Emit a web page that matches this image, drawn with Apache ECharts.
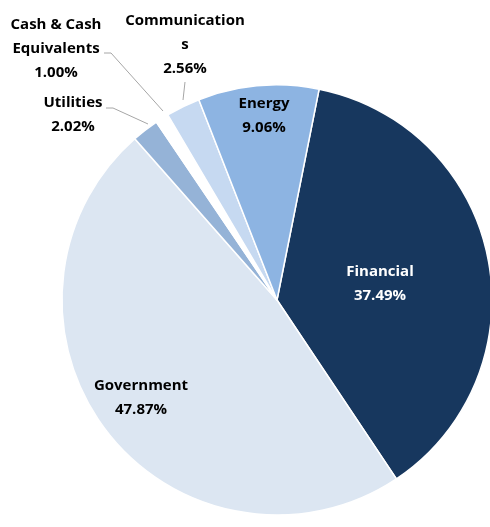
<!DOCTYPE html>
<html>
<head>
<meta charset="utf-8">
<script src="https://cdn.jsdelivr.net/npm/echarts@6/dist/echarts.min.js"></script>
<style>
html,body{margin:0;padding:0;background:#fff;}
#c{width:490px;height:527px;}
</style>
</head>
<body>
<div id="c"></div>
<script>
const categories = ['Financial', 'Government', 'Utilities', 'Cash & Cash\nEquivalents', 'Communication\ns', 'Energy'];
const values = [37.49, 47.87, 2.02, 1.00, 2.56, 9.06];
const colors = ['#17375E', '#DCE6F2', '#95B3D7', '#FFFFFF', '#C6D9F1', '#8DB4E2'];

// label placement (layout only)
const labelPos = [
  {x: 380, y: 284},
  {x: 141, y: 398},
  {x: 73, y: 115, line: [[106, 108], [113, 108], [148, 124]]},
  {x: 56, y: 49, line: [[104, 53], [111, 53], [163, 111]]},
  {x: 185, y: 45, line: [[185, 82], [185, 82], [183, 100]]},
  {x: 264, y: 116}
];

const chart = echarts.init(document.getElementById('c'));
chart.setOption({
  animation: false,
  series: [{
    type: 'pie',
    center: [277, 300],
    radius: 215,
    startAngle: 78.7,
    clockwise: true,
    avoidLabelOverlap: false,
    itemStyle: {borderColor: '#fff', borderWidth: 1.5},
    label: {
      show: true,
      fontFamily: 'Open Sans',
      fontWeight: 'bold',
      fontSize: 15,
      lineHeight: 24,
      color: '#000',
      align: 'center',
      formatter: p => p.name + '\n' + p.value.toFixed(2) + '%'
    },
    labelLine: {show: true, lineStyle: {color: '#A6A6A6', width: 1}},
    labelLayout: function (params) {
      const lp = labelPos[params.dataIndex];
      const r = {x: lp.x, y: lp.y, align: 'center', verticalAlign: 'middle'};
      if (lp.line) r.labelLinePoints = lp.line;
      return r;
    },
    data: categories.map((c, i) => ({
      name: c,
      value: values[i],
      itemStyle: {color: colors[i]},
      label: i === 0 ? {color: '#fff'} : {},
      labelLine: {show: !!labelPos[i].line}
    }))
  }]
});
</script>
</body>
</html>
